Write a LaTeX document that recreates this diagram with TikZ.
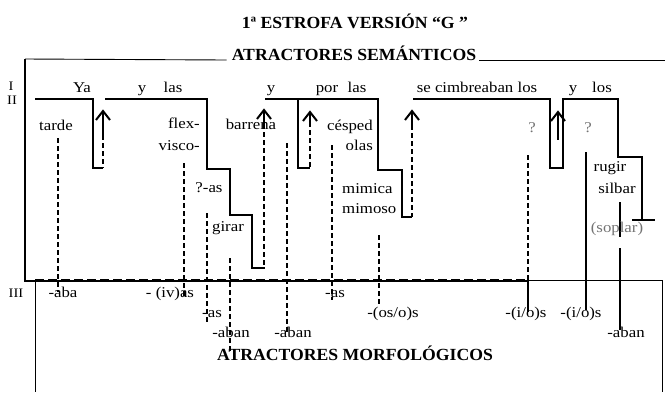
\documentclass[tikz,border=0pt]{standalone}
\usepackage{fontspec}
\setmainfont{Liberation Serif}
\newfontfamily\bodyfont{Liberation Serif}[FakeStretch=1.12]
\newfontfamily\headfont{Liberation Serif}[FakeStretch=1.04]
\begin{document}
\begin{tikzpicture}[x=1pt,y=-1pt,
  thickline/.style={line width=2.4pt, line join=miter},
  dashline/.style={line width=1.4pt, dash pattern=on 5pt off 3pt},
  thinline/.style={line width=0.9pt},
  boxline/.style={line width=1.3pt},
  txt/.style={font=\bodyfont\fontsize{15}{18}\selectfont, inner sep=0pt, anchor=base},
  small/.style={font=\bodyfont\fontsize{13}{15}\selectfont},
  head/.style={font=\headfont\bfseries\fontsize{17}{20}\selectfont, inner sep=0pt, anchor=base},
  faint/.style={text=black!55},
  arrhead/.style={line width=2pt, line join=miter},
  uparr/.pic={\draw[arrhead] (-7,9) -- (0,0) -- (7,9); \draw[line width=2pt] (0,0) -- (0,#1);}
]
\useasboundingbox (0,0) rectangle (665,392);

% titles
\node[head] (t1) at (355,28) {1ª ESTROFA VERSIÓN “G ”};
\node[head] (t2) at (354,60) {ATRACTORES SEMÁNTICOS};
\node[head] (t3) at (355,360) {ATRACTORES MORFOLÓGICOS};

% upper frame
\draw[thinline] (25,59) -- ([xshift=-5pt]t2.base west);
\draw[thinline] ([xshift=3pt]t2.base east) -- (665,60);
\draw[boxline] (25,59) -- (25,281) -- (35,281);
% lower frame
\draw[thinline] (35,281) -- (35,392);
\draw[thinline] (528,280) -- (662,280) -- (662,392);
\draw[line width=2.4pt] (35,281) -- (528,281);
\draw[line width=1pt, dash pattern=on 9pt off 4pt] (35,279.3) -- (525,279.3);

% row labels
\node[txt,small] (lI) at (11,90) {I};
\node[txt,small] (lII) at (12,104) {II};
\node[txt,small] (lIII) at (16,297) {III};

% row I words
\node[txt] (w1) at (82,92) {Ya};
\node[txt] (w2) at (142,92) {y};
\node[txt] (w3) at (173,92) {las};
\node[txt] (w4) at (271,92) {y};
\node[txt] (w5) at (327,92) {por};
\node[txt] (w6) at (357,92) {las};
\node[txt] (w7) at (477,92) {se cimbreaban los};
\node[txt] (w8) at (573,92) {y};
\node[txt] (w9) at (602,92) {los};

% thick line structure
\draw[thickline] (35,99) -- (93,99) -- (93,168) -- (103,168);
\draw[thickline] (105,99) -- (207,99) -- (207,169) -- (230,169) -- (230,215) -- (252,215) -- (252,268) -- (265,268);
\draw[thickline] (265,99) -- (378,99) -- (378,170) -- (402,170) -- (402,217) -- (412,217);
\draw[thickline] (298,99) -- (298,168) -- (310,168);
\draw[thickline] (413,99) -- (550,99) -- (550,168) -- (563,168) -- (563,99) -- (618,99) -- (618,157) -- (642,157) -- (642,220);
\draw[thickline] (632,220) -- (655,220);
\draw[thickline] (586,152) -- (586,310);
\draw[thickline] (620,202) -- (620,237);
\draw[thickline] (620,248) -- (620,330);
\draw[thickline] (528,280) -- (528,312);

% arrows
\pic at (103,111) {uparr=24};
\pic at (264,110) {uparr=14};
\pic at (310,112) {uparr=10};
\pic at (412,111) {uparr=14};
\pic at (558,112) {uparr=28};

% dashed lines
\draw[dashline] (103,135) -- (103,168);
\draw[dashline] (264,124) -- (264,268);
\draw[dashline] (310,122) -- (310,168);
\draw[dashline] (412,125) -- (412,217);
\draw[dashline] (58,138) -- (58,292);
\draw[dashline] (184,163) -- (184,297);
\draw[dashline] (207,213) -- (207,322);
\draw[dashline] (230,258) -- (230,352);
\draw[dashline] (287,143) -- (287,333);
\draw[dashline] (332,145) -- (332,300);
\draw[dashline] (379,235) -- (379,305);
\draw[dashline] (528,155) -- (528,280);

% semantic words
\node[txt] (a1) at (56,130) {tarde};
\node[txt,anchor=base east] (a2) at (200,128) {flex-};
\node[txt,anchor=base east] (a3) at (200,150) {visco-};
\node[txt] (a4) at (251,129) {barrena};
\node[txt,anchor=base east] (a5) at (373,130) {césped};
\node[txt,anchor=base east] (a6) at (373,150) {olas};
\node[txt,faint] (a7) at (532,132) {?};
\node[txt,faint] (a8) at (588,132) {?};
\node[txt] (a9) at (209,192) {?-as};
\node[txt] (a10) at (228,231) {girar};
\node[txt,anchor=base west] (a11) at (342,193) {mimica};
\node[txt,anchor=base west] (a12) at (342,213) {mimoso};
\node[txt] (a13) at (610,171) {rugir};
\node[txt] (a14) at (617,193) {silbar};
\node[txt,faint] (a15) at (617,232) {(soplar)};

% morphological endings
\node[txt] (m1) at (63,297) {-aba};
\node[txt] (m2) at (170,297) {- (iv)as};
\node[txt] (m3) at (212,317) {-as};
\node[txt] (m4) at (231,337) {-aban};
\node[txt] (m5) at (293,337) {-aban};
\node[txt] (m6) at (335,297) {-as};
\node[txt] (m7) at (393,317) {-(os/o)s};
\node[txt] (m8) at (526,317) {-(i/o)s};
\node[txt] (m9) at (581,317) {-(i/o)s};
\node[txt] (m10) at (626,337) {-aban};
\end{tikzpicture}
\end{document}
